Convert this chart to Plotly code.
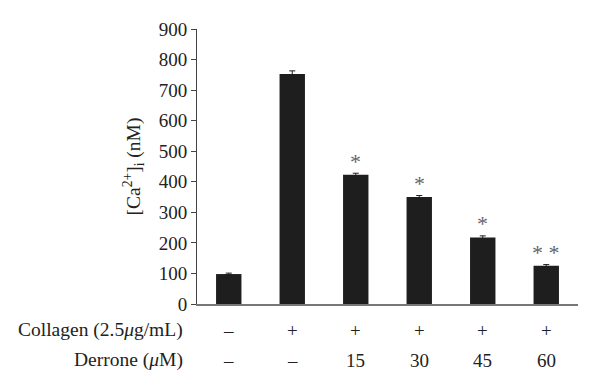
import plotly.graph_objects as go

categories = ["c1", "c2", "c3", "c4", "c5", "c6"]
values = [98, 753, 423, 350, 218, 125]
errors = [3, 10, 5, 5, 5, 4]
collagen = ["–", "+", "+", "+", "+", "+"]
derrone = ["–", "–", "15", "30", "45", "60"]
stars = ["", "", "*", "*", "*", "* *"]
y_ticks = [0, 100, 200, 300, 400, 500, 600, 700, 800, 900]

FONT = "Liberation Serif"
TXT = "#222222"
fig = go.Figure()
fig.add_trace(go.Bar(
    x=categories, y=values, width=0.4,
    marker=dict(color="#1e1e1e", line=dict(width=0)),
    error_y=dict(type="data", array=errors, visible=True, color="#1e1e1e", thickness=1, width=3),
))

ann = []
for c, v, e, s in zip(categories, values, errors, stars):
    if s:
        ann.append(dict(x=c, y=v + e, text=s, showarrow=False, yanchor="middle", yshift=12,
                        font=dict(family=FONT, size=22, color="#666666")))
for c, a, b in zip(categories, collagen, derrone):
    ann.append(dict(x=c, y=0, text=a, showarrow=False, yanchor="middle", yshift=-26,
                    font=dict(family=FONT, size=19, color=TXT)))
    ann.append(dict(x=c, y=0, text=b, showarrow=False, yanchor="middle", yshift=-56,
                    font=dict(family=FONT, size=19, color=TXT)))
ann.append(dict(xref="paper", x=0, xshift=-12, y=0, text="Collagen (2.5<i>μ</i>g/mL)", showarrow=False,
                xanchor="right", yanchor="middle", yshift=-26, font=dict(family=FONT, size=19.5, color=TXT)))
ann.append(dict(xref="paper", x=0, xshift=-12, y=0, text="Derrone (<i>μ</i>M)", showarrow=False,
                xanchor="right", yanchor="middle", yshift=-56, font=dict(family=FONT, size=19.5, color=TXT)))

fig.update_layout(
    width=600, height=391,
    margin=dict(l=189, r=30, t=21, b=95),
    paper_bgcolor="white", plot_bgcolor="white",
    showlegend=False,
    font=dict(family=FONT, size=19, color=TXT),
    annotations=ann,
    xaxis=dict(showticklabels=False, ticks="", showline=True, linecolor="#777", linewidth=1.5,
               showgrid=False, zeroline=False, range=[-0.5, 5.5]),
    yaxis=dict(range=[0, 900], tickvals=y_ticks, ticks="outside", ticklen=5, tickcolor="#444",
               showline=True, linecolor="#444", linewidth=1, showgrid=False, zeroline=False,
               tickfont=dict(family=FONT, size=19, color=TXT),
               title=dict(text="[Ca<sup>2+</sup>]<sub>i</sub> (nM)", standoff=12,
                          font=dict(family=FONT, size=19.5, color=TXT))),
)
fig.write_html("out.html")
